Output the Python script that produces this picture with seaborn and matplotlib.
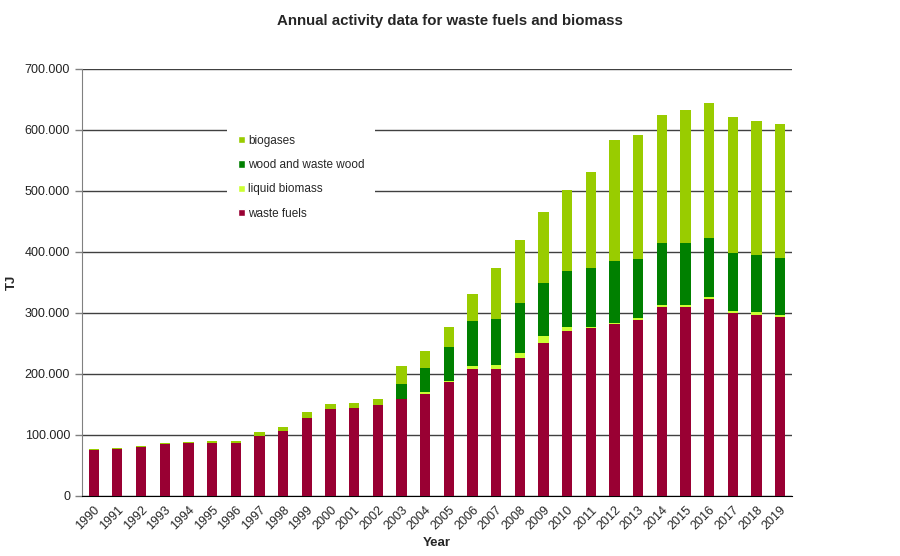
import numpy as np
import pandas as pd
import matplotlib
matplotlib.use("Agg")
import matplotlib.pyplot as plt
from matplotlib.patches import Patch
from matplotlib.ticker import FuncFormatter
import seaborn as sns

sns.set_style("white")
plt.rcParams['font.family'] = ['Liberation Sans', 'DejaVu Sans']

# activity data in TJ
years = [str(y) for y in range(1990, 2020)]
waste_fuels = [76000, 77600, 80300, 85200, 86900, 86900, 86900, 98900, 106600, 127900,
               142000, 144800, 149700, 159000, 167700, 186400, 208200, 208200, 226700, 251300,
               270000, 276000, 282500, 288500, 309800, 309800, 323500, 300000, 297200, 294000]
liquid_biomass = [0, 0, 0, 0, 0, 0, 0, 0, 0, 0,
                  0, 0, 0, 0, 2800, 2600, 5400, 6600, 7700, 10500,
                  7500, 1000, 1000, 3300, 3200, 3200, 3300, 3000, 4400, 2700]
wood = [0, 0, 0, 0, 0, 0, 0, 0, 0, 0,
        0, 0, 0, 25000, 39300, 55000, 73400, 75200, 81600, 86900,
        91500, 96000, 101500, 96700, 101800, 101800, 96700, 95900, 94000, 93300]
biogases = [1000, 1400, 1700, 1700, 1600, 3300, 3100, 6000, 6000, 9800,
            8800, 7700, 9300, 29000, 27900, 33000, 44000, 83000, 103000, 116900,
            132600, 158700, 198600, 203300, 209200, 218000, 220200, 221900, 219200, 219800]

labels = ["waste fuels", "liquid biomass", "wood and waste wood", "biogases"]
colors = ["#990033", "#ccff33", "#008000", "#99cc00"]

df = pd.DataFrame({"Year": years, "waste fuels": waste_fuels,
                   "liquid biomass": liquid_biomass,
                   "wood and waste wood": wood, "biogases": biogases})
cum = df[labels].cumsum(axis=1)
cum["Year"] = df["Year"]

fig = plt.figure(figsize=(9, 5.56), dpi=100)
ax = fig.add_axes([0.091, 0.108, 0.789, 0.768])

# stacked bars: draw cumulative totals from the top layer down
for lab, col in zip(labels[::-1], colors[::-1]):
    sns.barplot(data=cum, x="Year", y=lab, color=col, width=0.43,
                saturation=1, linewidth=0, ax=ax, zorder=3)

ax.set_ylim(0, 700000)
ax.set_yticks(np.arange(0, 700001, 100000))
ax.yaxis.set_major_formatter(FuncFormatter(lambda v, p: f"{int(v):,}".replace(",", ".")))
ax.yaxis.grid(True, color="#404040", linewidth=1, zorder=0)
ax.set_axisbelow(True)
ax.set_xlim(-0.5, len(years) - 0.5)

ax.set_xticks(np.arange(len(years)))
ax.set_xticklabels(years, rotation=45, ha="right", rotation_mode="anchor", fontsize=9)
ax.set_xticks(np.arange(len(years) + 1) - 0.5, minor=True)
ax.tick_params(axis="x", which="major", length=0, pad=6)
ax.tick_params(axis="x", which="minor", length=5, width=1, color="black", direction="out")
ax.tick_params(axis="y", which="major", length=5, width=1, color="#808080",
               direction="out", labelsize=9, left=True, labelcolor="#222222")

for s in ["top", "right"]:
    ax.spines[s].set_visible(False)
ax.spines["left"].set_color("#808080")
ax.spines["bottom"].set_color("black")

ax.set_xlabel("Year", fontsize=9.5, fontweight="bold")
ax.xaxis.set_label_coords(0.5, -0.095)
ax.set_ylabel("TJ", fontsize=9.5, fontweight="bold", labelpad=5)
fig.suptitle("Annual activity data for waste fuels and biomass", fontsize=10.8,
             fontweight="bold", x=0.5, y=0.975)

handles = [Patch(facecolor=c, label=l) for l, c in zip(labels[::-1], colors[::-1])]
leg = ax.legend(handles=handles, loc="upper left",
                bbox_to_anchor=(227 / 900, 1 - 124 / 556), bbox_transform=fig.transFigure,
                frameon=True, facecolor="white", edgecolor="none", fancybox=False,
                framealpha=1, fontsize=8.5, handlelength=0.6, handleheight=0.6,
                handletextpad=0.3, labelspacing=1.05, borderpad=0.9, borderaxespad=0)
leg.set_zorder(5)

fig.savefig("out.png", dpi=100)
